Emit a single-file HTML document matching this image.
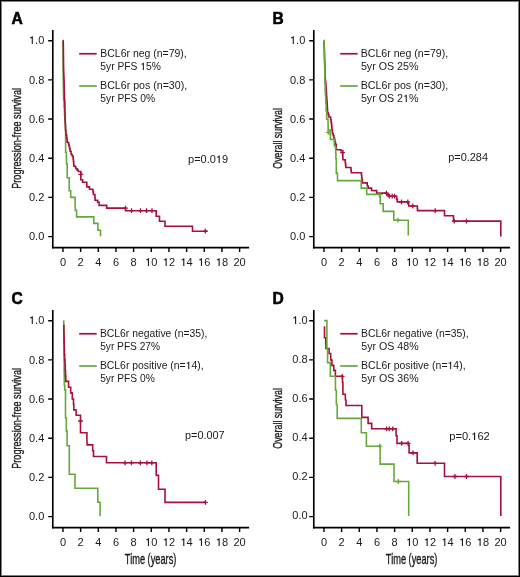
<!DOCTYPE html>
<html><head><meta charset="utf-8"><style>
html,body{margin:0;padding:0;background:#fff;}
#fig{position:relative;width:520px;height:577px;overflow:hidden;background:#fff;}
#fig svg{position:absolute;left:0;top:0;will-change:transform;}
.frame{position:absolute;left:0;top:0;width:520px;height:577px;box-sizing:border-box;border:1px solid #000;box-shadow:inset 0 0 0 1px #808080;}
text{font-family:"Liberation Sans", sans-serif;fill:#1a1a1a;}
.tk{font-size:11px;}
.lg{font-size:10.3px;}
.pv{font-size:10.5px;}
.yl{font-size:13.6px;stroke:#1a1a1a;stroke-width:0.35px;}
.tl{font-size:14.2px;}
.h1{fill-opacity:0;}
.pl{font-size:15.6px;font-weight:bold;fill:#000;stroke:#000;stroke-width:0.55px;}
</style></head><body>
<div id="fig">
<svg width="520" height="577" viewBox="0 0 520 577">
<g transform="translate(0,0)"><text x="11.5" y="23.7" class="pl">A</text><path d="M52.78,30 V248.4" stroke="#000" stroke-width="1.65" fill="none"/><path d="M51.95,247.6 H249.1" stroke="#000" stroke-width="1.6" fill="none"/><path d="M48.2,236.60H52.8M48.2,197.42H52.8M48.2,158.24H52.8M48.2,119.06H52.8M48.2,79.88H52.8M48.2,40.70H52.8M62.95,248V252M80.62,248V252M98.28,248V252M115.95,248V252M133.61,248V252M151.28,248V252M168.95,248V252M186.61,248V252M204.28,248V252M221.94,248V252M239.61,248V252" stroke="#000" stroke-width="1.4" fill="none"/><text x="44.3" y="240.30" text-anchor="end" class="tk">0.0</text><text x="44.3" y="201.12" text-anchor="end" class="tk">0.2</text><text x="44.3" y="161.94" text-anchor="end" class="tk">0.4</text><text x="44.3" y="122.76" text-anchor="end" class="tk">0.6</text><text x="44.3" y="83.58" text-anchor="end" class="tk">0.8</text><text x="44.3" y="44.40" text-anchor="end" class="tk"><tspan class="h1">1</tspan>.0</text><text x="62.95" y="265.6" text-anchor="middle" class="tk">0</text><text x="80.62" y="265.6" text-anchor="middle" class="tk">2</text><text x="98.28" y="265.6" text-anchor="middle" class="tk">4</text><text x="115.95" y="265.6" text-anchor="middle" class="tk">6</text><text x="133.61" y="265.6" text-anchor="middle" class="tk">8</text><text x="151.28" y="265.6" text-anchor="middle" class="tk"><tspan class="h1">1</tspan>0</text><text x="168.95" y="265.6" text-anchor="middle" class="tk"><tspan class="h1">1</tspan>2</text><text x="186.61" y="265.6" text-anchor="middle" class="tk"><tspan class="h1">1</tspan>4</text><text x="204.28" y="265.6" text-anchor="middle" class="tk"><tspan class="h1">1</tspan>6</text><text x="221.94" y="265.6" text-anchor="middle" class="tk"><tspan class="h1">1</tspan>8</text><text x="239.61" y="265.6" text-anchor="middle" class="tk">20</text><text transform="translate(21.2,138.4) rotate(-90)" text-anchor="middle" class="yl" textLength="100.8" lengthAdjust="spacingAndGlyphs">Progression-free survival</text></g><g transform="translate(261,0)"><text x="11.5" y="23.7" class="pl">B</text><path d="M52.78,30 V248.4" stroke="#000" stroke-width="1.65" fill="none"/><path d="M51.95,247.6 H249.1" stroke="#000" stroke-width="1.6" fill="none"/><path d="M48.2,236.60H52.8M48.2,197.42H52.8M48.2,158.24H52.8M48.2,119.06H52.8M48.2,79.88H52.8M48.2,40.70H52.8M62.95,248V252M80.62,248V252M98.28,248V252M115.95,248V252M133.61,248V252M151.28,248V252M168.95,248V252M186.61,248V252M204.28,248V252M221.94,248V252M239.61,248V252" stroke="#000" stroke-width="1.4" fill="none"/><text x="44.3" y="240.30" text-anchor="end" class="tk">0.0</text><text x="44.3" y="201.12" text-anchor="end" class="tk">0.2</text><text x="44.3" y="161.94" text-anchor="end" class="tk">0.4</text><text x="44.3" y="122.76" text-anchor="end" class="tk">0.6</text><text x="44.3" y="83.58" text-anchor="end" class="tk">0.8</text><text x="44.3" y="44.40" text-anchor="end" class="tk"><tspan class="h1">1</tspan>.0</text><text x="62.95" y="265.6" text-anchor="middle" class="tk">0</text><text x="80.62" y="265.6" text-anchor="middle" class="tk">2</text><text x="98.28" y="265.6" text-anchor="middle" class="tk">4</text><text x="115.95" y="265.6" text-anchor="middle" class="tk">6</text><text x="133.61" y="265.6" text-anchor="middle" class="tk">8</text><text x="151.28" y="265.6" text-anchor="middle" class="tk"><tspan class="h1">1</tspan>0</text><text x="168.95" y="265.6" text-anchor="middle" class="tk"><tspan class="h1">1</tspan>2</text><text x="186.61" y="265.6" text-anchor="middle" class="tk"><tspan class="h1">1</tspan>4</text><text x="204.28" y="265.6" text-anchor="middle" class="tk"><tspan class="h1">1</tspan>6</text><text x="221.94" y="265.6" text-anchor="middle" class="tk"><tspan class="h1">1</tspan>8</text><text x="239.61" y="265.6" text-anchor="middle" class="tk">20</text><text transform="translate(21.2,138.4) rotate(-90)" text-anchor="middle" class="yl" textLength="60.7" lengthAdjust="spacingAndGlyphs">Overall survival</text></g><g transform="translate(0,280)"><text x="11.5" y="23.7" class="pl">C</text><path d="M52.78,30 V248.4" stroke="#000" stroke-width="1.65" fill="none"/><path d="M51.95,247.6 H249.1" stroke="#000" stroke-width="1.6" fill="none"/><path d="M48.2,236.60H52.8M48.2,197.42H52.8M48.2,158.24H52.8M48.2,119.06H52.8M48.2,79.88H52.8M48.2,40.70H52.8M62.95,248V252M80.62,248V252M98.28,248V252M115.95,248V252M133.61,248V252M151.28,248V252M168.95,248V252M186.61,248V252M204.28,248V252M221.94,248V252M239.61,248V252" stroke="#000" stroke-width="1.4" fill="none"/><text x="44.3" y="240.30" text-anchor="end" class="tk">0.0</text><text x="44.3" y="201.12" text-anchor="end" class="tk">0.2</text><text x="44.3" y="161.94" text-anchor="end" class="tk">0.4</text><text x="44.3" y="122.76" text-anchor="end" class="tk">0.6</text><text x="44.3" y="83.58" text-anchor="end" class="tk">0.8</text><text x="44.3" y="44.40" text-anchor="end" class="tk"><tspan class="h1">1</tspan>.0</text><text x="62.95" y="265.6" text-anchor="middle" class="tk">0</text><text x="80.62" y="265.6" text-anchor="middle" class="tk">2</text><text x="98.28" y="265.6" text-anchor="middle" class="tk">4</text><text x="115.95" y="265.6" text-anchor="middle" class="tk">6</text><text x="133.61" y="265.6" text-anchor="middle" class="tk">8</text><text x="151.28" y="265.6" text-anchor="middle" class="tk"><tspan class="h1">1</tspan>0</text><text x="168.95" y="265.6" text-anchor="middle" class="tk"><tspan class="h1">1</tspan>2</text><text x="186.61" y="265.6" text-anchor="middle" class="tk"><tspan class="h1">1</tspan>4</text><text x="204.28" y="265.6" text-anchor="middle" class="tk"><tspan class="h1">1</tspan>6</text><text x="221.94" y="265.6" text-anchor="middle" class="tk"><tspan class="h1">1</tspan>8</text><text x="239.61" y="265.6" text-anchor="middle" class="tk">20</text><text transform="translate(21.2,138.4) rotate(-90)" text-anchor="middle" class="yl" textLength="100.8" lengthAdjust="spacingAndGlyphs">Progression-free survival</text><text x="150.6" y="283.6" text-anchor="middle" class="yl tl" textLength="51.5" lengthAdjust="spacingAndGlyphs">Time (years)</text></g><g transform="translate(261,280)"><text x="11.5" y="23.7" class="pl">D</text><path d="M52.78,30 V248.4" stroke="#000" stroke-width="1.65" fill="none"/><path d="M51.95,247.6 H249.1" stroke="#000" stroke-width="1.6" fill="none"/><path d="M48.2,236.60H52.8M48.2,197.42H52.8M48.2,158.24H52.8M48.2,119.06H52.8M48.2,79.88H52.8M48.2,40.70H52.8M62.95,248V252M80.62,248V252M98.28,248V252M115.95,248V252M133.61,248V252M151.28,248V252M168.95,248V252M186.61,248V252M204.28,248V252M221.94,248V252M239.61,248V252" stroke="#000" stroke-width="1.4" fill="none"/><text x="46.6" y="239.40" text-anchor="end" class="tk">0.0</text><text x="46.6" y="200.22" text-anchor="end" class="tk">0.2</text><text x="46.6" y="161.04" text-anchor="end" class="tk">0.4</text><text x="46.6" y="121.86" text-anchor="end" class="tk">0.6</text><text x="46.6" y="82.68" text-anchor="end" class="tk">0.8</text><text x="46.6" y="43.50" text-anchor="end" class="tk"><tspan class="h1">1</tspan>.0</text><text x="62.95" y="265.6" text-anchor="middle" class="tk">0</text><text x="80.62" y="265.6" text-anchor="middle" class="tk">2</text><text x="98.28" y="265.6" text-anchor="middle" class="tk">4</text><text x="115.95" y="265.6" text-anchor="middle" class="tk">6</text><text x="133.61" y="265.6" text-anchor="middle" class="tk">8</text><text x="151.28" y="265.6" text-anchor="middle" class="tk"><tspan class="h1">1</tspan>0</text><text x="168.95" y="265.6" text-anchor="middle" class="tk"><tspan class="h1">1</tspan>2</text><text x="186.61" y="265.6" text-anchor="middle" class="tk"><tspan class="h1">1</tspan>4</text><text x="204.28" y="265.6" text-anchor="middle" class="tk"><tspan class="h1">1</tspan>6</text><text x="221.94" y="265.6" text-anchor="middle" class="tk"><tspan class="h1">1</tspan>8</text><text x="239.61" y="265.6" text-anchor="middle" class="tk">20</text><text transform="translate(21.2,138.4) rotate(-90)" text-anchor="middle" class="yl" textLength="60.7" lengthAdjust="spacingAndGlyphs">Overall survival</text><text x="150.6" y="283.6" text-anchor="middle" class="yl tl" textLength="51.5" lengthAdjust="spacingAndGlyphs">Time (years)</text></g><path d="M79.2,53.75H96.7" stroke="#a8103b" stroke-width="1.7"/><path d="M79.2,86.0H96.7" stroke="#66a83c" stroke-width="1.7"/><path d="M340.2,53.75H357.7" stroke="#a8103b" stroke-width="1.7"/><path d="M340.2,86.0H357.7" stroke="#66a83c" stroke-width="1.7"/><path d="M79.2,333.75H96.7" stroke="#a8103b" stroke-width="1.7"/><path d="M79.2,366.0H96.7" stroke="#66a83c" stroke-width="1.7"/><path d="M340.2,333.75H357.7" stroke="#a8103b" stroke-width="1.7"/><path d="M340.2,366.0H357.7" stroke="#66a83c" stroke-width="1.7"/><text id="a1" x="100.33" y="57" class="lg" textLength="86.42" lengthAdjust="spacingAndGlyphs">BCL6r neg (n=79),</text><text id="a2" x="100.35" y="70" class="lg" textLength="60.50" lengthAdjust="spacingAndGlyphs">5yr PFS <tspan class="h1">1</tspan>5%</text><text id="a3" x="100.11" y="89" class="lg" textLength="87.06" lengthAdjust="spacingAndGlyphs">BCL6r pos (n=30),</text><text id="a4" x="100.35" y="102" class="lg" textLength="54.75" lengthAdjust="spacingAndGlyphs">5yr PFS 0%</text><text id="b1" x="360.73" y="57" class="lg" textLength="87.50" lengthAdjust="spacingAndGlyphs">BCL6r neg (n=79),</text><text id="b2" x="360.91" y="70" class="lg" textLength="57.59" lengthAdjust="spacingAndGlyphs">5yr OS 25%</text><text id="b3" x="360.73" y="89" class="lg" textLength="87.56" lengthAdjust="spacingAndGlyphs">BCL6r pos (n=30),</text><text id="b4" x="360.91" y="102" class="lg" textLength="57.59" lengthAdjust="spacingAndGlyphs">5yr OS 2<tspan class="h1">1</tspan>%</text><text id="c1" x="99.94" y="337" class="lg" textLength="107.37" lengthAdjust="spacingAndGlyphs">BCL6r negative (n=35),</text><text id="c2" x="100.15" y="350" class="lg" textLength="59.94" lengthAdjust="spacingAndGlyphs">5yr PFS 27%</text><text id="c3" x="99.93" y="369" class="lg" textLength="103.61" lengthAdjust="spacingAndGlyphs">BCL6r positive (n=<tspan class="h1">1</tspan>4),</text><text id="c4" x="100.15" y="382" class="lg" textLength="54.64" lengthAdjust="spacingAndGlyphs">5yr PFS 0%</text><text id="d1" x="361.13" y="337" class="lg" textLength="107.54" lengthAdjust="spacingAndGlyphs">BCL6r negative (n=35),</text><text id="d2" x="361.32" y="350" class="lg" textLength="57.31" lengthAdjust="spacingAndGlyphs">5yr OS 48%</text><text id="d3" x="361.13" y="369" class="lg" textLength="104.43" lengthAdjust="spacingAndGlyphs">BCL6r positive (n=<tspan class="h1">1</tspan>4),</text><text id="d4" x="361.32" y="382" class="lg" textLength="57.31" lengthAdjust="spacingAndGlyphs">5yr OS 36%</text><text id="pa" x="188.04" y="163" class="pv" textLength="40.06" lengthAdjust="spacingAndGlyphs">p=0.0<tspan class="h1">1</tspan>9</text><text id="pb" x="448.25" y="161" class="pv" textLength="39.77" lengthAdjust="spacingAndGlyphs">p=0.284</text><text id="pc" x="185.04" y="439" class="pv" textLength="39.65" lengthAdjust="spacingAndGlyphs">p=0.007</text><text id="pd" x="449.23" y="440" class="pv" textLength="40.59" lengthAdjust="spacingAndGlyphs">p=0.<tspan class="h1">1</tspan>62</text><path d="M31.74,44.00 L32.84,44.00 L32.84,36.20 L31.98,36.20 L31.76,36.61 L31.36,37.05 L30.75,37.33 L29.98,37.44 L29.98,38.21 L31.74,38.21ZM147.91,266.00 L149.01,266.00 L149.01,258.20 L148.15,258.20 L147.93,258.61 L147.52,259.05 L146.92,259.33 L146.15,259.44 L146.15,260.21 L147.91,260.21ZM165.58,266.00 L166.68,266.00 L166.68,258.20 L165.82,258.20 L165.60,258.61 L165.19,259.05 L164.59,259.33 L163.82,259.44 L163.82,260.21 L165.58,260.21ZM183.24,266.00 L184.34,266.00 L184.34,258.20 L183.48,258.20 L183.26,258.61 L182.85,259.05 L182.25,259.33 L181.48,259.44 L181.48,260.21 L183.24,260.21ZM200.91,266.00 L202.01,266.00 L202.01,258.20 L201.15,258.20 L200.93,258.61 L200.52,259.05 L199.92,259.33 L199.15,259.44 L199.15,260.21 L200.91,260.21ZM218.57,266.00 L219.67,266.00 L219.67,258.20 L218.81,258.20 L218.59,258.61 L218.18,259.05 L217.58,259.33 L216.81,259.44 L216.81,260.21 L218.57,260.21ZM292.74,44.00 L293.84,44.00 L293.84,36.20 L292.98,36.20 L292.76,36.61 L292.36,37.05 L291.75,37.33 L290.98,37.44 L290.98,38.21 L292.74,38.21ZM408.91,266.00 L410.01,266.00 L410.01,258.20 L409.15,258.20 L408.93,258.61 L408.52,259.05 L407.92,259.33 L407.15,259.44 L407.15,260.21 L408.91,260.21ZM426.58,266.00 L427.68,266.00 L427.68,258.20 L426.82,258.20 L426.60,258.61 L426.19,259.05 L425.59,259.33 L424.82,259.44 L424.82,260.21 L426.58,260.21ZM444.24,266.00 L445.34,266.00 L445.34,258.20 L444.48,258.20 L444.26,258.61 L443.85,259.05 L443.25,259.33 L442.48,259.44 L442.48,260.21 L444.24,260.21ZM461.91,266.00 L463.01,266.00 L463.01,258.20 L462.15,258.20 L461.93,258.61 L461.52,259.05 L460.92,259.33 L460.15,259.44 L460.15,260.21 L461.91,260.21ZM479.57,266.00 L480.67,266.00 L480.67,258.20 L479.81,258.20 L479.59,258.61 L479.18,259.05 L478.58,259.33 L477.81,259.44 L477.81,260.21 L479.57,260.21ZM31.74,324.00 L32.84,324.00 L32.84,316.20 L31.98,316.20 L31.76,316.61 L31.36,317.05 L30.75,317.33 L29.98,317.44 L29.98,318.21 L31.74,318.21ZM147.91,546.00 L149.01,546.00 L149.01,538.20 L148.15,538.20 L147.93,538.61 L147.52,539.05 L146.92,539.33 L146.15,539.44 L146.15,540.21 L147.91,540.21ZM165.58,546.00 L166.68,546.00 L166.68,538.20 L165.82,538.20 L165.60,538.61 L165.19,539.05 L164.59,539.33 L163.82,539.44 L163.82,540.21 L165.58,540.21ZM183.24,546.00 L184.34,546.00 L184.34,538.20 L183.48,538.20 L183.26,538.61 L182.85,539.05 L182.25,539.33 L181.48,539.44 L181.48,540.21 L183.24,540.21ZM200.91,546.00 L202.01,546.00 L202.01,538.20 L201.15,538.20 L200.93,538.61 L200.52,539.05 L199.92,539.33 L199.15,539.44 L199.15,540.21 L200.91,540.21ZM218.57,546.00 L219.67,546.00 L219.67,538.20 L218.81,538.20 L218.59,538.61 L218.18,539.05 L217.58,539.33 L216.81,539.44 L216.81,540.21 L218.57,540.21ZM295.04,324.00 L296.14,324.00 L296.14,316.20 L295.28,316.20 L295.06,316.61 L294.66,317.05 L294.05,317.33 L293.28,317.44 L293.28,318.21 L295.04,318.21ZM408.91,546.00 L410.01,546.00 L410.01,538.20 L409.15,538.20 L408.93,538.61 L408.52,539.05 L407.92,539.33 L407.15,539.44 L407.15,540.21 L408.91,540.21ZM426.58,546.00 L427.68,546.00 L427.68,538.20 L426.82,538.20 L426.60,538.61 L426.19,539.05 L425.59,539.33 L424.82,539.44 L424.82,540.21 L426.58,540.21ZM444.24,546.00 L445.34,546.00 L445.34,538.20 L444.48,538.20 L444.26,538.61 L443.85,539.05 L443.25,539.33 L442.48,539.44 L442.48,540.21 L444.24,540.21ZM461.91,546.00 L463.01,546.00 L463.01,538.20 L462.15,538.20 L461.93,538.61 L461.52,539.05 L460.92,539.33 L460.15,539.44 L460.15,540.21 L461.91,540.21ZM479.57,546.00 L480.67,546.00 L480.67,538.20 L479.81,538.20 L479.59,538.61 L479.18,539.05 L478.58,539.33 L477.81,539.44 L477.81,540.21 L479.57,540.21ZM142.86,70.00 L143.89,70.00 L143.89,62.70 L143.09,62.70 L142.88,63.08 L142.50,63.49 L141.93,63.76 L141.21,63.86 L141.21,64.58 L142.86,64.58ZM405.73,102.00 L406.80,102.00 L406.80,94.70 L405.97,94.70 L405.75,95.08 L405.36,95.49 L404.77,95.76 L404.02,95.86 L404.02,96.58 L405.73,96.58ZM188.23,369.00 L189.27,369.00 L189.27,361.70 L188.46,361.70 L188.25,362.08 L187.86,362.49 L187.29,362.76 L186.56,362.86 L186.56,363.58 L188.23,363.58ZM450.13,369.00 L451.17,369.00 L451.17,361.70 L450.36,361.70 L450.15,362.08 L449.76,362.49 L449.18,362.76 L448.45,362.86 L448.45,363.58 L450.13,363.58ZM218.62,163.00 L219.72,163.00 L219.72,155.56 L218.86,155.56 L218.64,155.94 L218.23,156.36 L217.62,156.64 L216.85,156.74 L216.85,157.48 L218.62,157.48ZM474.01,440.00 L475.13,440.00 L475.13,432.56 L474.26,432.56 L474.03,432.94 L473.62,433.36 L473.01,433.64 L472.23,433.74 L472.23,434.48 L474.01,434.48Z" fill="#1a1a1a"/><path d="M63.00,40.50 L63.20,80.00 L63.33,80.00 L63.33,86.67 L63.47,86.67 L63.47,93.33 L63.60,93.33 L63.60,100.00 L64.05,100.00 L64.05,107.50 L64.50,107.50 L64.50,115.00 L64.85,115.00 L64.85,120.00 L65.20,120.00 L65.20,125.00 L65.40,125.00 L65.40,130.00 L65.60,130.00 L65.60,135.00 L65.60,152.30 L66.30,152.30 L66.30,152.80 L66.50,163.80 L67.20,163.80 L67.20,164.30 L67.20,177.80 L69.20,177.80 L69.20,190.80 L70.70,190.80 L70.70,197.40 L74.80,197.40 L75.10,197.40 L75.10,204.50 L75.30,210.40 L76.60,210.40 L76.60,216.90 L93.80,216.90 L93.80,223.40 L97.90,223.40 L97.90,230.30 L100.50,230.30 L100.50,236.30" stroke="#66a83c" stroke-width="1.6" fill="none"/><path d="M63.00,40.50 L63.15,40.50 L63.15,42.75 L63.30,42.75 L63.30,45.00 L63.33,45.00 L63.33,47.50 L63.36,47.50 L63.36,50.00 L63.39,50.00 L63.39,52.50 L63.42,52.50 L63.42,55.00 L63.45,55.00 L63.45,57.50 L63.48,57.50 L63.48,60.00 L63.51,60.00 L63.51,62.50 L63.54,62.50 L63.54,65.00 L63.57,65.00 L63.57,67.50 L63.60,67.50 L63.60,70.00 L63.70,70.00 L63.70,72.60 L63.80,72.60 L63.80,75.20 L63.90,75.20 L63.90,77.80 L64.00,77.80 L64.00,80.40 L64.10,80.40 L64.10,83.00 L64.16,83.00 L64.16,85.43 L64.21,85.43 L64.21,87.86 L64.27,87.86 L64.27,90.29 L64.33,90.29 L64.33,92.71 L64.39,92.71 L64.39,95.14 L64.44,95.14 L64.44,97.57 L64.50,97.57 L64.50,100.00 L64.70,100.00 L64.70,103.00 L64.90,103.00 L64.90,106.00 L65.10,119.60 L65.22,119.60 L65.22,122.20 L65.35,122.20 L65.35,124.80 L65.47,124.80 L65.47,127.40 L65.60,127.40 L65.60,130.00 L65.80,130.00 L65.80,132.50 L66.00,132.50 L66.00,135.00 L66.70,135.00 L66.70,137.90 L66.95,137.90 L66.95,140.05 L67.20,140.05 L67.20,142.20 L68.20,142.20 L68.20,142.70 L68.65,142.70 L68.65,144.60 L69.10,144.60 L69.10,146.50 L69.60,146.50 L69.60,148.90 L70.10,148.90 L70.10,151.30 L71.10,151.30 L71.10,154.20 L72.00,154.20 L72.00,155.70 L73.00,155.70 L73.00,157.60 L73.25,157.60 L73.25,159.75 L73.50,159.75 L73.50,161.90 L73.70,161.90 L73.70,164.10 L73.90,164.10 L73.90,166.30 L75.40,166.30 L75.40,167.20 L75.90,167.20 L75.90,168.70 L77.30,168.70 L77.30,170.10 L78.30,170.10 L78.30,171.50 L80.80,171.50 L80.80,172.00 L80.80,179.70 L82.60,179.70 L82.60,182.20 L86.60,182.20 L86.75,182.20 L86.75,184.55 L86.90,184.55 L86.90,186.90 L89.10,186.90 L89.10,187.40 L89.60,187.40 L89.60,189.30 L92.60,189.30 L92.60,189.60 L93.00,189.60 L93.00,192.05 L93.40,192.05 L93.40,194.50 L94.80,194.50 L94.80,195.00 L94.95,195.00 L94.95,197.65 L95.10,197.65 L95.10,200.30 L97.20,200.40 L97.70,200.40 L97.70,202.20 L99.10,202.20 L99.10,202.60 L99.10,205.40 L106.70,205.40 L106.70,208.10 L125.50,208.10 L125.50,210.70 L156.20,210.70 L156.20,216.20 L159.50,216.20 L159.50,221.20 L165.00,221.20 L165.00,226.20 L192.50,226.20 L192.50,231.20 L207.50,231.20" stroke="#a8103b" stroke-width="1.6" fill="none"/><path d="M78.40,174.40h4.8M80.80,172.00v4.8M123.10,208.10h4.8M125.50,205.70v4.8M129.10,210.70h4.8M131.50,208.30v4.8M138.10,210.70h4.8M140.50,208.30v4.8M144.10,210.70h4.8M146.50,208.30v4.8M149.60,210.70h4.8M152.00,208.30v4.8M202.90,231.20h4.8M205.30,228.80v4.8" stroke="#a8103b" stroke-width="1.3" fill="none"/><path d="M324.00,40.50 L324.07,40.50 L324.07,42.94 L324.15,42.94 L324.15,45.38 L324.23,45.38 L324.23,47.81 L324.30,47.81 L324.30,50.25 L324.38,50.25 L324.38,52.69 L324.45,52.69 L324.45,55.12 L324.53,55.12 L324.53,57.56 L324.60,57.56 L324.60,60.00 L324.69,60.00 L324.69,62.50 L324.78,62.50 L324.78,65.00 L324.86,65.00 L324.86,67.50 L324.95,67.50 L324.95,70.00 L325.04,70.00 L325.04,72.50 L325.12,72.50 L325.12,75.00 L325.21,75.00 L325.21,77.50 L325.30,77.50 L325.30,80.00 L325.55,80.00 L325.55,82.50 L325.80,82.50 L325.80,85.00 L325.96,85.00 L325.96,87.38 L326.12,87.38 L326.12,89.75 L326.29,89.75 L326.29,92.12 L326.45,92.12 L326.45,94.50 L326.61,94.50 L326.61,96.88 L326.78,96.88 L326.78,99.25 L326.94,99.25 L326.94,101.62 L327.10,101.62 L327.10,104.00 L327.23,104.00 L327.23,106.17 L327.35,106.17 L327.35,108.35 L327.48,108.35 L327.48,110.53 L327.60,110.53 L327.60,112.70 L328.25,112.70 L328.25,114.85 L328.90,114.85 L328.90,117.00 L330.60,117.00 L330.60,119.70 L331.05,119.70 L331.05,122.30 L331.50,122.30 L331.50,124.90 L331.75,124.90 L331.75,127.12 L332.00,127.12 L332.00,129.35 L332.25,129.35 L332.25,131.58 L332.50,131.58 L332.50,133.80 L333.20,133.80 L333.20,135.75 L333.90,135.75 L333.90,137.70 L334.40,137.70 L334.40,139.60 L334.90,139.60 L334.90,142.00 L335.40,142.00 L335.40,144.40 L336.30,144.40 L336.30,147.30 L336.50,149.70 L340.20,149.70 L341.00,149.70 L341.00,150.70 L342.60,150.70 L342.60,151.00 L342.68,151.00 L342.68,153.20 L342.75,153.20 L342.75,155.40 L342.82,155.40 L342.82,157.60 L342.90,157.60 L342.90,159.80 L345.00,159.80 L345.00,160.30 L345.27,160.30 L345.27,162.70 L345.53,162.70 L345.53,165.10 L345.80,165.10 L345.80,167.50 L350.60,167.50 L350.95,167.50 L350.95,170.15 L351.30,170.15 L351.30,172.80 L361.20,172.80 L361.45,172.80 L361.45,175.25 L361.70,175.25 L361.70,177.70 L362.00,177.70 L362.00,180.30 L362.30,180.30 L362.30,182.90 L366.90,182.90 L367.20,182.90 L367.20,185.80 L368.10,185.80 L368.10,188.10 L371.00,188.10 L371.50,188.10 L371.50,190.40 L375.90,190.60 L376.70,190.60 L376.70,193.10 L386.50,193.10 L386.90,193.10 L386.90,194.60 L388.70,194.60 L388.70,195.00 L389.20,195.00 L389.20,196.20 L396.20,196.20 L396.70,196.20 L396.70,199.40 L397.30,199.40 L397.30,201.90 L407.90,201.90 L408.30,201.90 L408.30,204.20 L408.80,204.20 L408.80,206.00 L417.20,206.00 L417.35,206.00 L417.35,208.30 L417.50,208.30 L417.50,210.60 L444.50,210.60 L444.50,215.80 L453.50,215.80 L453.50,221.10 L500.80,221.10 L500.80,236.50" stroke="#a8103b" stroke-width="1.6" fill="none"/><path d="M340.20,152.60h4.8M342.60,150.20v4.8M384.00,193.10h4.8M386.40,190.70v4.8M386.80,196.20h4.8M389.20,193.80v4.8M389.80,196.20h4.8M392.20,193.80v4.8M392.10,196.20h4.8M394.50,193.80v4.8M399.10,201.90h4.8M401.50,199.50v4.8M405.40,201.90h4.8M407.80,199.50v4.8M410.40,206.00h4.8M412.80,203.60v4.8M432.80,210.60h4.8M435.20,208.20v4.8M451.80,221.10h4.8M454.20,218.70v4.8M464.10,221.10h4.8M466.50,218.70v4.8" stroke="#a8103b" stroke-width="1.3" fill="none"/><path d="M324.00,40.50 L324.14,40.50 L324.14,46.86 L324.29,46.86 L324.29,53.21 L324.43,53.21 L324.43,59.57 L324.57,59.57 L324.57,65.93 L324.71,65.93 L324.71,72.29 L324.86,72.29 L324.86,78.64 L325.00,78.64 L325.00,85.00 L325.20,85.00 L325.20,90.20 L325.40,90.20 L325.40,95.40 L325.75,95.40 L325.75,103.20 L326.10,103.20 L326.10,111.00 L326.70,111.00 L326.70,119.20 L328.00,119.20 L328.00,119.70 L328.20,130.00 L328.70,130.00 L330.10,130.00 L330.10,134.80 L330.40,134.80 L330.40,139.40 L334.20,139.40 L334.40,145.90 L335.40,145.90 L335.40,146.80 L335.65,146.80 L335.65,152.80 L335.90,152.80 L335.90,158.80 L336.30,158.80 L336.30,165.00 L336.30,173.10 L337.20,173.10 L337.20,173.70 L337.50,173.70 L337.50,180.60 L361.20,180.60 L361.20,188.10 L366.30,188.10 L366.70,188.10 L366.70,194.40 L378.50,194.40 L379.60,194.40 L379.60,196.70 L380.20,196.70 L380.20,203.70 L383.20,203.70 L383.20,211.40 L393.80,211.40 L393.80,220.20 L408.30,220.20 L408.30,235.40" stroke="#66a83c" stroke-width="1.6" fill="none"/><path d="M325.80,132.40h4.8M328.20,130.00v4.8M377.60,194.40h4.8M380.00,192.00v4.8M395.50,220.20h4.8M397.90,217.80v4.8" stroke="#66a83c" stroke-width="1.3" fill="none"/><path d="M63.70,320.30 L63.70,326.00 L63.85,326.00 L63.85,343.40 L64.00,343.40 L64.00,360.80 L64.15,360.80 L64.15,372.90 L64.30,372.90 L64.30,385.00 L64.70,385.00 L64.70,389.90 L65.50,389.90 L65.50,390.50 L65.50,417.80 L66.30,417.80 L66.30,418.40 L66.30,431.10 L67.10,431.10 L67.10,431.70 L67.10,445.70 L69.30,445.70 L69.30,474.20 L75.00,474.20 L75.00,488.20 L97.80,488.20 L97.80,502.30 L100.10,502.30 L100.10,516.30" stroke="#66a83c" stroke-width="1.6" fill="none"/><path d="M63.70,325.30 L63.85,325.30 L63.85,331.25 L64.00,331.25 L64.00,337.20 L64.13,337.20 L64.13,343.00 L64.27,343.00 L64.27,348.80 L64.40,348.80 L64.40,354.60 L64.70,354.60 L64.70,359.80 L65.00,359.80 L65.00,365.00 L65.27,365.00 L65.27,370.47 L65.53,370.47 L65.53,375.93 L65.80,375.93 L65.80,381.40 L67.80,381.40 L68.60,381.40 L68.60,387.20 L70.40,387.20 L70.70,387.20 L70.70,392.90 L72.00,392.90 L72.00,393.30 L72.30,393.30 L72.30,399.00 L73.20,399.00 L73.20,399.30 L73.50,399.30 L73.50,404.40 L73.80,404.40 L73.80,409.90 L76.00,409.90 L76.00,410.20 L76.20,415.30 L80.50,415.30 L80.50,432.70 L86.50,432.70 L86.90,432.70 L86.90,438.40 L87.10,444.90 L92.70,444.90 L92.70,450.80 L93.50,450.80 L93.50,456.50 L106.50,456.50 L106.50,462.80 L156.20,462.80 L156.20,475.40 L158.50,475.40 L158.50,489.20 L165.00,489.20 L165.00,502.40 L205.80,502.40" stroke="#a8103b" stroke-width="1.6" fill="none"/><path d="M78.10,421.00h4.8M80.50,418.60v4.8M122.70,462.80h4.8M125.10,460.40v4.8M129.10,462.80h4.8M131.50,460.40v4.8M137.90,462.80h4.8M140.30,460.40v4.8M144.60,462.80h4.8M147.00,460.40v4.8M149.40,462.80h4.8M151.80,460.40v4.8M203.00,502.40h4.8M205.40,500.00v4.8" stroke="#a8103b" stroke-width="1.3" fill="none"/><path d="M324.50,326.30 L324.50,337.70 L325.60,337.90 L325.75,337.90 L325.75,343.15 L325.90,343.15 L325.90,348.40 L328.60,348.60 L329.10,348.60 L329.10,353.50 L330.70,353.50 L330.70,354.60 L330.80,359.90 L331.60,359.90 L331.60,360.50 L331.90,360.50 L331.90,365.40 L333.40,365.40 L333.40,365.70 L333.80,365.70 L333.80,370.40 L335.00,370.40 L335.00,370.80 L335.40,370.80 L335.40,376.30 L342.50,376.30 L342.50,382.20 L342.90,382.20 L342.90,382.60 L342.90,394.30 L345.30,394.30 L345.40,400.00 L346.00,400.20 L346.00,405.50 L361.30,405.50 L361.80,405.50 L361.80,411.00 L361.90,417.40 L368.10,417.40 L368.10,423.40 L371.70,423.40 L371.70,428.80 L395.70,428.80 L396.10,428.80 L396.10,435.80 L397.00,435.80 L397.00,436.40 L397.00,443.40 L408.30,443.40 L408.70,443.40 L408.70,445.50 L409.10,445.50 L409.10,452.90 L417.20,452.90 L417.20,463.30 L444.50,463.30 L444.50,476.50 L500.80,476.50 L500.80,516.00" stroke="#a8103b" stroke-width="1.6" fill="none"/><path d="M339.80,376.30h4.8M342.20,373.90v4.8M384.20,428.80h4.8M386.60,426.40v4.8M386.80,428.80h4.8M389.20,426.40v4.8M390.30,428.80h4.8M392.70,426.40v4.8M399.20,443.40h4.8M401.60,441.00v4.8M405.70,443.40h4.8M408.10,441.00v4.8M410.60,452.90h4.8M413.00,450.50v4.8M432.70,463.30h4.8M435.10,460.90v4.8M452.50,476.50h4.8M454.90,474.10v4.8M464.10,476.50h4.8M466.50,474.10v4.8" stroke="#a8103b" stroke-width="1.3" fill="none"/><path d="M324.10,320.60 L326.90,320.60 L326.90,348.20 L327.60,348.40 L327.60,362.60 L330.30,362.60 L330.30,376.30 L335.40,376.30 L335.50,390.20 L336.30,390.40 L336.40,404.70 L337.20,404.90 L337.20,418.40 L361.30,418.40 L361.30,432.70 L366.40,432.70 L366.40,446.20 L380.10,446.20 L380.10,464.10 L394.00,464.10 L394.00,481.50 L408.70,481.50 L408.70,516.00" stroke="#66a83c" stroke-width="1.6" fill="none"/><path d="M377.30,446.20h4.8M379.70,443.80v4.8M396.00,481.50h4.8M398.40,479.10v4.8" stroke="#66a83c" stroke-width="1.3" fill="none"/>
</svg>
<div class="frame"></div>
</div>
</body></html>
